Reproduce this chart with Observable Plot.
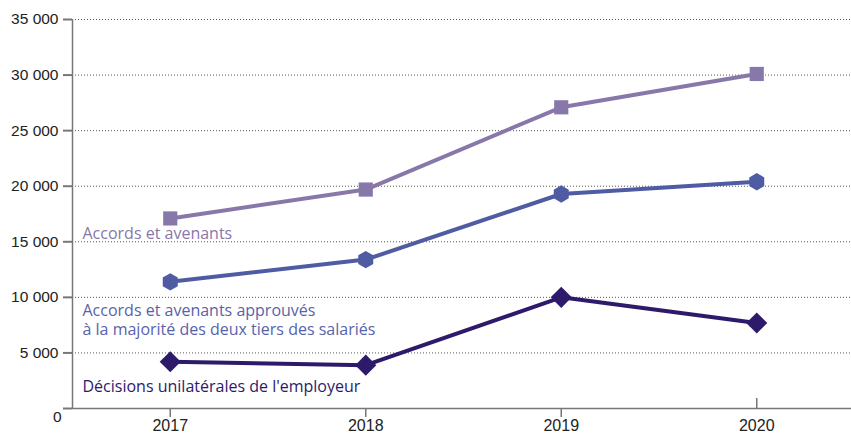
<!DOCTYPE html>
<html>
<head>
<meta charset="utf-8">
<script src="https://cdn.jsdelivr.net/npm/d3@7"></script>
<script src="https://cdn.jsdelivr.net/npm/@observablehq/plot@0.6"></script>
<style>
  html, body { margin: 0; padding: 0; background: #fff; }
  #chart svg { display: block; }
</style>
</head>
<body>
<div id="chart"></div>
<script>
const years = [2017, 2018, 2019, 2020];
const accords = [17100, 19700, 27100, 30100];
const approuves = [11400, 13400, 19300, 20400];
const decisions = [4200, 3900, 10000, 7700];
const seriesNames = [
  "Accords et avenants",
  "Accords et avenants approuvés\nà la majorité des deux tiers des salariés",
  "Décisions unilatérales de l'employeur"
];
const yTicks = [0, 5000, 10000, 15000, 20000, 25000, 30000, 35000];

const colors = ["#8878a9", "#4f5ba3", "#2e1a6b"];
const textColors = ["#8878a9", "#5863aa", "#2e1a6b"];
const symbols = ["square", "hexagon", "diamond2"];
const radii = [8, 7.5, 9.5];

const seriesValues = [accords, approuves, decisions];
const rows = seriesValues.map((vals, s) =>
  years.map((year, i) => ({year, value: vals[i], series: s}))
);

const fmt = d => d3.format(",")(d).replace(/,/g, "\u00a0");
const labelFont = "'Open Sans', sans-serif";

const marks = [
  Plot.gridY(yTicks.filter(d => d > 0), {stroke: "#555", strokeOpacity: 1, strokeWidth: 1, strokeDasharray: "1,2"}),
  Plot.ruleY([0], {stroke: "#777", strokeWidth: 1.5}),
  Plot.ruleX([2016.5], {y1: 0, y2: 35000, stroke: "#777", strokeWidth: 1.5}),
  Plot.axisY(yTicks.filter(d => d > 0), {label: null, tickSize: 9, tickPadding: 5, tickFormat: fmt, stroke: "#777", strokeWidth: 2, fill: "#222", fontSize: 15.5}),
  Plot.axisY([0], {label: null, tickSize: 9, tickPadding: 0, tickFormat: fmt, text: null, stroke: "#777", strokeWidth: 2}),
  Plot.text([0], {x: 2016.5, y: d => d, text: d => fmt(d), dx: -11, dy: 9, textAnchor: "end", fill: "#222", fontSize: 15.5}),
  Plot.axisX(years, {label: null, tickSize: 0, tickPadding: 11, tickFormat: "d", fill: "#222", fontSize: 16}),
  Plot.axisX(years.slice(0, 3), {label: null, tickSize: 9, text: null, stroke: "#777", strokeWidth: 1.5}),
  Plot.axisX(years.slice(3), {label: null, tickSize: -10, text: null, stroke: "#777", strokeWidth: 1.5})
];

rows.forEach((data, s) => {
  marks.push(Plot.line(data, {x: "year", y: "value", stroke: colors[s], strokeWidth: 4}));
  marks.push(Plot.dot(data, {x: "year", y: "value", symbol: () => symbols[s], r: radii[s], fill: colors[s], stroke: "none"}));
});

const labelY = [15840, 8008, 2070];
seriesNames.forEach((name, s) => {
  marks.push(Plot.text([name], {
    x: 2016.5, y: labelY[s], text: d => d, dx: 10,
    textAnchor: "start", lineAnchor: "middle", lineHeight: 1.2,
    fill: textColors[s], fontSize: 16, fontFamily: labelFont
  }));
});

const chart = Plot.plot({
  width: 851,
  height: 434,
  marginLeft: 72,
  marginRight: 0,
  marginTop: 19,
  marginBottom: 26,
  style: {fontFamily: "'Liberation Sans', Arial, sans-serif", fontSize: "15px", background: "#fff", overflow: "visible"},
  x: {domain: [2016.5, 2020.5], range: [72, 854], axis: null, label: null},
  y: {domain: [0, 35000], axis: null, label: null},
  symbol: {type: "identity"},
  marks
});
document.getElementById("chart").appendChild(chart);
</script>
</body>
</html>
